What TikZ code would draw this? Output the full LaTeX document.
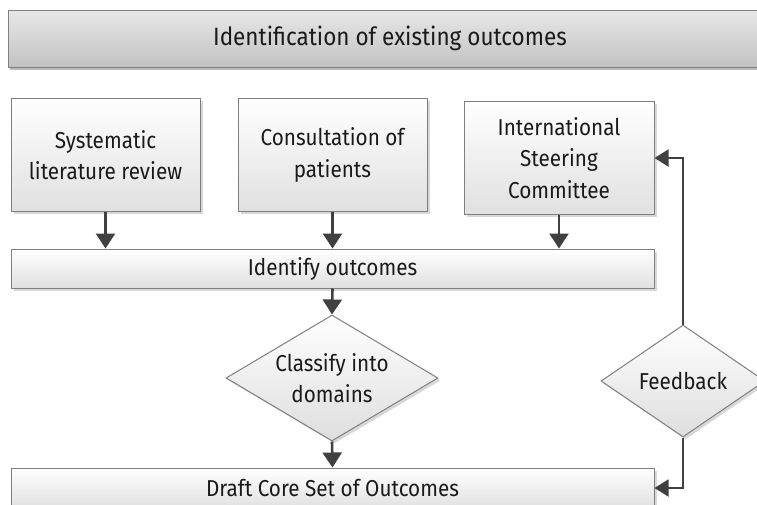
\documentclass[tikz,border=0pt]{standalone}
\usepackage{fontspec}
\setmainfont{Fira Sans}[FakeStretch=0.9]
\usetikzlibrary{arrows.meta,shapes.geometric,shadows}

\definecolor{edge}{HTML}{7F7F7F}
\definecolor{arrowgray}{HTML}{404040}
\definecolor{inktext}{HTML}{1A1A1A}

\tikzset{
  boxtext/.style={font=\fontsize{23}{31.5}\selectfont, text=inktext, align=center},
  softshadow/.style={drop shadow={shadow xshift=2.5pt, shadow yshift=-2.5pt, fill=black!30, opacity=0.5}},
  processbox/.style={rectangle, draw=edge, line width=1pt, top color=white, bottom color=black!12,
    inner sep=0pt, softshadow, boxtext},
  decision/.style={diamond, draw=edge, line width=1pt, top color=white, bottom color=black!13,
    inner sep=-25pt, softshadow, boxtext},
  banner/.style={rectangle, draw=black!50, line width=1pt, top color=black!9, bottom color=black!24,
    inner sep=0pt, drop shadow={shadow xshift=1.5pt, shadow yshift=-3pt, fill=black!45, opacity=0.6},
    font=\fontsize{25}{30}\selectfont, text=inktext},
  flow/.style={draw=arrowgray, line width=2.6pt, -{Triangle[length=15pt,width=19pt]}},
  loopflow/.style={draw=arrowgray, line width=2pt, -{Triangle[length=14pt,width=17pt]}},
}

\begin{document}
\begin{tikzpicture}[x=1pt, y=-1pt]
\useasboundingbox (0,0) rectangle (757,504);
\clip (0,0) rectangle (757,504);
\fill[white] (0,0) rectangle (757,504);

% header banner
\node[banner, minimum width=764pt, minimum height=57pt] (title) at (390,38.5)
  {Identification of existing outcomes};

% input sources
\node[processbox, minimum width=189pt, minimum height=113pt] (review) at (105.5,155)
  {Systematic\\literature review};
\node[processbox, minimum width=189pt, minimum height=113pt] (patients) at (332.5,155)
  {Consultation of\\patients};
\node[processbox, minimum width=190pt, minimum height=113pt] (committee) at (559,158)
  {International\\Steering\\Committee};

% collection bar
\node[processbox, minimum width=643pt, minimum height=39pt] (identify) at (332.5,268.5)
  {Identify outcomes};

% decisions
\node[decision, shape aspect=1.68, minimum width=212pt, minimum height=126pt] (classify) at (332,378)
  {Classify into\\domains};
\node[decision, shape aspect=1.46, minimum width=164pt, minimum height=112pt] (feedback) at (683,381)
  {Feedback};

% result bar
\node[processbox, minimum width=643pt, minimum height=40pt] (draft) at (332.5,488)
  {Draft Core Set of Outcomes};

% main flow
\draw[flow] (review.south) -- (review.south |- identify.north);
\draw[flow] (patients.south) -- (patients.south |- identify.north);
\draw[flow] (committee.south) -- (committee.south |- identify.north);
\draw[flow] (identify.south) -- (classify.north);
\draw[flow] (classify.south) -- (draft.north);

% feedback loop
\draw[loopflow] (feedback.north) |- (committee.east);
\draw[loopflow] (feedback.south) |- (draft.east);
\end{tikzpicture}
\end{document}
